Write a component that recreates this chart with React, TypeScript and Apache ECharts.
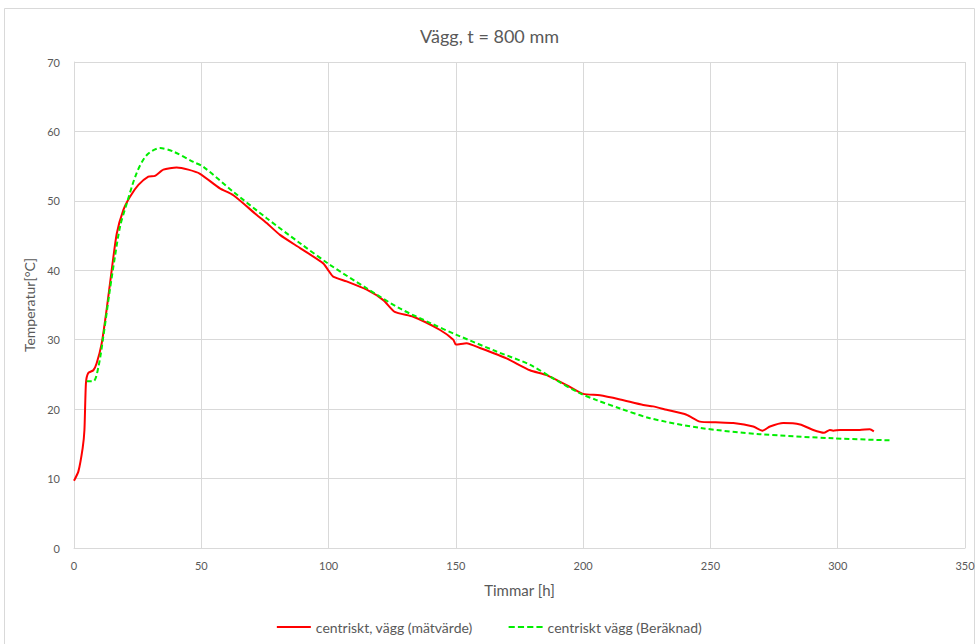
import React, { useEffect, useRef } from "react";
import * as echarts from "echarts";

const measuredT = [0, 1.7, 3.4, 4.1, 4.7, 5.6, 7.6, 8.9, 10.9, 12.8, 14.8, 16.8, 19.4, 22, 25.3, 29.2, 31.8, 35.1, 40.3, 44.9, 49.5, 57.3, 62.6, 71.7, 75.7, 80.9, 88.8, 97.9, 99.9, 101.8, 107.1, 115, 121.5, 126, 133.3, 143.8, 149, 150, 154.2, 159.5, 169.9, 179.1, 185.7, 194.8, 200, 206.6, 214.5, 223.6, 227.5, 232.8, 240.6, 245.9, 252, 259, 266.8, 270.4, 273.4, 278.6, 285.2, 290.4, 294.6, 296.9, 298.2, 300.9, 308.7, 312.6, 314.2];
const measuredV = [9.7, 11.0, 14.4, 17.0, 23.8, 25.2, 25.6, 26.6, 29.5, 34.3, 40.0, 45.3, 48.7, 50.6, 52.3, 53.5, 53.6, 54.5, 54.8, 54.5, 53.9, 51.8, 50.8, 48.0, 46.8, 45.1, 43.2, 41.0, 40.0, 39.1, 38.4, 37.2, 35.7, 34.0, 33.3, 31.4, 30.0, 29.3, 29.5, 28.8, 27.3, 25.6, 24.9, 23.2, 22.2, 22.0, 21.4, 20.6, 20.4, 19.9, 19.2, 18.2, 18.1, 18.0, 17.5, 16.9, 17.5, 18.0, 17.8, 17.0, 16.6, 17.0, 16.9, 17.0, 17.0, 17.1, 16.8];

const calcT = [5, 7.6, 9.6, 11.5, 14.1, 16.1, 18.1, 20.7, 24.6, 28.6, 33.8, 39, 46.9, 50.8, 62.6, 75.7, 88.8, 100.5, 115, 128, 140, 150.3, 166, 179.1, 188.3, 198.7, 205.3, 214.5, 226.2, 245.9, 269.4, 298.2, 321.2];
const calcV = [24.0, 24.0, 26.1, 30.4, 37.2, 42.0, 46.3, 49.6, 54.0, 56.6, 57.6, 57.1, 55.6, 54.9, 51.3, 47.5, 43.9, 40.8, 37.4, 34.5, 32.4, 30.7, 28.3, 26.4, 24.4, 22.3, 21.3, 20.1, 18.7, 17.3, 16.4, 15.8, 15.5];

const xTicks = [0, 50, 100, 150, 200, 250, 300, 350];
const yTicks = [0, 10, 20, 30, 40, 50, 60, 70];

const seriesNames = ["centriskt, vägg (mätvärde)", "centriskt vägg (Beräknad)"];

export default function App() {
  const ref = useRef<HTMLDivElement>(null);
  useEffect(() => {
    if (!ref.current) return;
    const chart = echarts.init(ref.current, undefined, { renderer: "svg" });
    const font = "Lato, 'Noto Sans', sans-serif";
    const gray = "#595959";
    chart.setOption({
      animation: false,
      backgroundColor: "#ffffff",
      textStyle: { fontFamily: font },
      title: {
        text: "Vägg, t = 800 mm",
        left: "center",
        top: 22,
        textStyle: { fontSize: 18, fontWeight: "normal", color: gray, fontFamily: font },
      },
      graphic: [
        {
          type: "rect",
          shape: { x: 4.5, y: 8.5, width: 970, height: 640 },
          style: { fill: "none", stroke: "#d9d9d9", lineWidth: 1 },
          silent: true,
        },
      ],
      legend: {
        bottom: 5,
        left: "center",
        itemWidth: 34,
        itemHeight: 10,
        itemGap: 36,
        textStyle: { fontSize: 14, color: gray, fontFamily: font },
        data: [
          { name: seriesNames[0], icon: "path://M0,0 L34,0 L34,2 L0,2 Z" },
          { name: seriesNames[1], icon: "path://M0,0 L6,0 L6,2 L0,2 Z M9,0 L15,0 L15,2 L9,2 Z M18,0 L24,0 L24,2 L18,2 Z M27,0 L33,0 L33,2 L27,2 Z" },
        ],
      },
      grid: { left: 74, right: 14, top: 62, bottom: 96, containLabel: false },
      xAxis: {
        type: "value",
        min: xTicks[0],
        max: xTicks[xTicks.length - 1],
        interval: 50,
        name: "Timmar [h]",
        nameLocation: "middle",
        nameGap: 34,
        nameTextStyle: { fontSize: 15, color: gray, fontFamily: font },
        axisLine: { show: true, lineStyle: { color: "#d9d9d9" } },
        axisTick: { show: false },
        axisLabel: { color: gray, fontSize: 11, margin: 12, fontFamily: font },
        splitLine: { show: true, lineStyle: { color: "#d9d9d9", width: 1 } },
      },
      yAxis: {
        type: "value",
        min: yTicks[0],
        max: yTicks[yTicks.length - 1],
        interval: 10,
        name: "Temperatur[°C]",
        nameLocation: "middle",
        nameGap: 36,
        nameRotate: 90,
        nameTextStyle: { fontSize: 14, color: gray, fontFamily: font },
        axisLine: { show: true, lineStyle: { color: "#d9d9d9" } },
        axisTick: { show: false },
        axisLabel: { color: gray, fontSize: 11, margin: 14, fontFamily: font },
        splitLine: { show: true, lineStyle: { color: "#d9d9d9", width: 1 } },
      },
      series: [
        {
          name: seriesNames[0],
          type: "line",
          showSymbol: false,
          smooth: 0.2,
          color: "#ff0000",
          lineStyle: { color: "#ff0000", width: 2 },
          data: measuredT.map((t, i) => [t, measuredV[i]]),
        },
        {
          name: seriesNames[1],
          type: "line",
          showSymbol: false,
          smooth: 0.3,
          color: "#00ee00",
          lineStyle: { color: "#00ee00", width: 2, type: [5, 3] },
          data: calcT.map((t, i) => [t, calcV[i]]),
        },
      ],
    });
    return () => chart.dispose();
  }, []);
  return (
    <div
      ref={ref}
      style={{ position: "fixed", left: 0, top: 0, width: 979, height: 644 }}
    />
  );
}
